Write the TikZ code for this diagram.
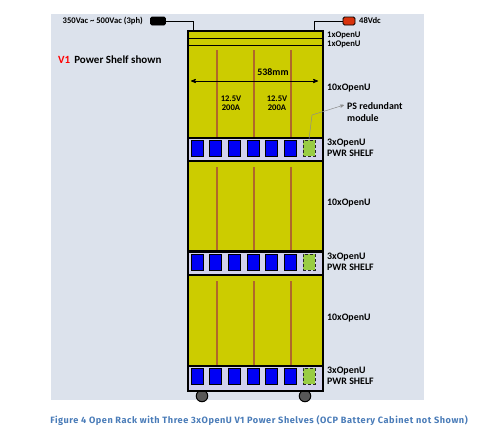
\documentclass[tikz,border=0pt]{standalone}
\usepackage{fontspec}
\setmainfont{Carlito}
\newfontfamily\capfont[LetterSpace=6]{Fira Sans}
\usetikzlibrary{arrows}
\definecolor{panelbg}{HTML}{DCE2EC}
\definecolor{rackyellow}{HTML}{CCCC00}
\definecolor{shelfbg}{HTML}{D2D2EC}
\definecolor{psblue}{HTML}{0000F5}
\definecolor{psgreen}{HTML}{99CC44}
\definecolor{busbar}{HTML}{B0682A}
\definecolor{plugred}{HTML}{D8320C}
\definecolor{wheelgrey}{HTML}{585858}
\definecolor{capblue}{HTML}{4A7CB8}
\tikzset{
  lbl/.style={font=\bfseries\fontsize{8.6}{9}\selectfont, inner sep=0pt, align=left, text=black},
  biglbl/.style={lbl, font=\bfseries\fontsize{9.9}{11.5}\selectfont},
  bay/.style={draw=black, line width=1.8pt, fill=rackyellow, minimum width=135pt, inner sep=0pt, anchor=north west},
  shelfbox/.style={draw=black, line width=1.8pt, fill=shelfbg, minimum width=135pt, inner sep=0pt, anchor=north west},
  psu/.style={draw=black, line width=1pt, fill=psblue, minimum width=12pt, minimum height=16pt, inner sep=0pt},
  pssp/.style={draw=black!85, densely dashed, line width=1pt, fill=psgreen, minimum width=12pt, minimum height=16pt, inner sep=0pt},
  plug/.style={draw=black, line width=.8pt, rounded corners=1.5pt, minimum width=15pt, minimum height=8pt, inner sep=0pt},
  wheel/.style={circle, draw=black, line width=1pt, fill=wheelgrey, minimum size=11.5pt, inner sep=0pt},
}
\begin{document}
\begin{tikzpicture}[x=1pt,y=-1pt,>=stealth']
      \useasboundingbox (0,0) rectangle (500,432);
      % Background
        \fill[panelbg] (51,14) rectangle (424,400);

      % Wheels
        \node[wheel] (w1) at (202,396) {};
        \node[wheel] (w2) at (305,396) {};

      % Bays, bars and shelves
        \node[bay, minimum height=107pt] (b1) at (187,30) {};
        \node[bay, minimum height=90pt] (b2) at (187,160) {};
        \node[bay, minimum height=91pt] (b3) at (187,274) {};

        \draw[line width=1pt] (187,38) -- (322,38);
        \draw[line width=1pt] (187,45) -- (322,45);

        \foreach \x in {217,254,291} {
          \draw[busbar, line width=2pt] (\x,50) -- (\x,137);
          \draw[busbar, line width=2pt] (\x,167) -- (\x,250);
          \draw[busbar, line width=2pt] (\x,281) -- (\x,365);
        }

        \foreach \n/\y/\h in {1/137/23,2/251/23,3/365/25} {
          \node[shelfbox, minimum height=\h pt] (s\n) at (187,\y) {};
          \foreach \i/\x in {1/197,2/215.5,3/234,4/253,5/271,6/290} {
            \node[psu] (p\n\i) at (\x,\y+11) {};
          }
          \node[pssp] (g\n) at (309,\y+11) {};
          \node[biglbl, anchor=west] (t\n) at (327,\y+11) {3xOpenU\\PWR SHELF};
        }

      % Plugs
        \node[plug, fill=black] (ac) at (158,21) {};
        \node[plug, fill=plugred, minimum width=12pt] (dc) at (349,21) {};
        \coordinate (acin) at (193,30);
        \coordinate (dcin) at (314,30);
        \draw[line width=1pt] (ac) -| (acin);
        \draw[line width=1pt] (dc) -| (dcin);
        \node[lbl, anchor=east] (aclbl) at (143,21) {350Vac \textasciitilde{} 500Vac (3ph)};
        \node[lbl, anchor=west] (dclbl) at (359,21) {48Vdc};

      % Labels
        \node[lbl, anchor=west, font=\bfseries\fontsize{11}{13}\selectfont] (v1) at (58,60) {\textcolor{red}{V1}\hspace{4pt}Power Shelf shown};
        \node[lbl, anchor=west] (u1) at (327,35) {1xOpenU};
        \node[lbl, anchor=west] (u2) at (327,44) {1xOpenU};
        \node[biglbl, anchor=west] (u3) at (327,88) {10xOpenU};
        \node[biglbl, anchor=west] (u4) at (327,203) {10xOpenU};
        \node[biglbl, anchor=west] (u5) at (327,318) {10xOpenU};
        \node[biglbl, anchor=west] (ps) at (347,112) {PS redundant\\module};
        \node[lbl, align=center] (i1) at (231,103) {12.5V\\200A};
        \node[lbl, align=center] (i2) at (277,103) {12.5V\\200A};

      % Width arrow
        \node[biglbl] (wd) at (273,72) {538mm};
        \coordinate (wl) at (191,81);
        \coordinate (wr) at (318,81);
        \draw[<->, line width=.8pt] (wl) -- (wr);

      % Leader
        \coordinate (bend) at (312,115);
        \coordinate (tip) at (344,105);
        \draw[->, black!45, line width=.5pt] (g1.north) -- (bend) -- (tip);

      % Caption
        \node[inner sep=0pt, text=capblue, font=\capfont\bfseries\fontsize{9.15}{11}\selectfont] (cap) at (259,421) {Figure 4 Open Rack with Three 3xOpenU V1 Power Shelves (OCP Battery Cabinet not Shown)};

    \end{tikzpicture}
\end{document}
